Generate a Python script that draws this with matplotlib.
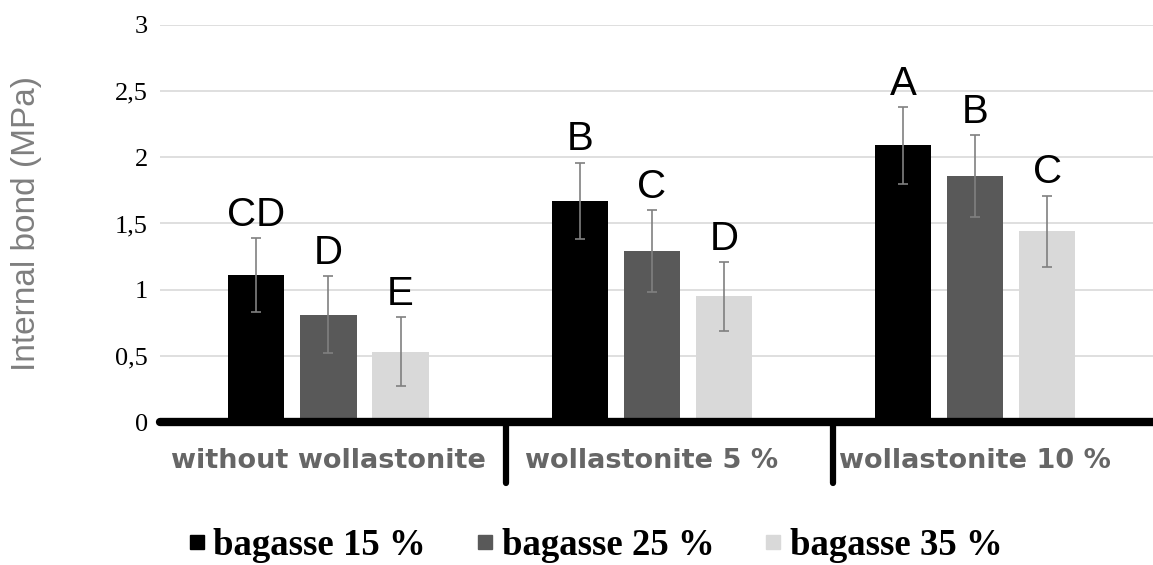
import numpy as np
import matplotlib
matplotlib.use("Agg")
import matplotlib.pyplot as plt
from matplotlib.lines import Line2D

groups = ["without wollastonite", "wollastonite 5 %", "wollastonite 10 %"]
series = ["bagasse 15 %", "bagasse 25 %", "bagasse 35 %"]
colors = ["#000000", "#595959", "#d9d9d9"]

means = [
    [1.11, 1.67, 2.09],   # bagasse 15 %
    [0.81, 1.29, 1.86],   # bagasse 25 %
    [0.53, 0.95, 1.44],   # bagasse 35 %
]
errs = [
    [0.28, 0.29, 0.29],
    [0.29, 0.31, 0.31],
    [0.26, 0.26, 0.27],
]
letters = [
    ["CD", "B", "A"],
    ["D", "C", "B"],
    ["E", "D", "C"],
]
dividers = [0.55, 1.56]

fig = plt.figure(figsize=(11.53, 5.65), dpi=100)
ax = fig.add_axes([0.139, 0.253, 0.861, 0.703])

x = np.arange(len(groups))
slot = 0.223
width = 0.174
for i in range(len(series)):
    pos = x + (i - 1) * slot
    ax.bar(pos, means[i], width=width, color=colors[i], zorder=2, label=series[i])
    ax.errorbar(pos, means[i], yerr=errs[i], fmt="none", ecolor="#808080",
                elinewidth=1.2, capsize=3.8, capthick=1.2, zorder=3)
    for j in range(len(groups)):
        ax.annotate(letters[i][j], (pos[j], means[i][j] + errs[i][j]),
                    xytext=(0, 3), textcoords="offset points",
                    ha="center", va="bottom", fontsize=29,
                    family="Liberation Sans", color="black")

ax.set_ylim(0, 3)
ax.set_xlim(-0.52, 2.55)
ax.set_yticks(np.arange(0, 3.01, 0.5))
ax.set_yticklabels(["0", "0,5", "1", "1,5", "2", "2,5", "3"],
                   family="Liberation Serif", fontsize=19)
ax.yaxis.grid(True, color="#d9d9d9", linewidth=1.2, zorder=0)
ax.set_axisbelow(True)
for s in ["top", "right", "left"]:
    ax.spines[s].set_visible(False)
ax.spines["bottom"].set_linewidth(6)
ax.spines["bottom"].set_capstyle("round")
ax.tick_params(axis="y", length=0, pad=9)
ax.tick_params(axis="x", length=0, pad=19)
ax.set_xticks(x)
ax.set_xticklabels(groups, fontsize=19.5, fontweight="bold", color="#666666",
                   family="DejaVu Sans")

# separators between the categories
for b in dividers:
    ax.plot([b, b], [0, -0.46], color="black", linewidth=4.5,
            solid_capstyle="round", clip_on=False, zorder=4)

ax.set_ylabel("Internal bond (MPa)", fontsize=24, color="#7f7f7f",
              family="Liberation Sans")
ax.yaxis.set_label_coords(-0.119, 0.5)

handles = [Line2D([], [], marker="s", linestyle="none", markersize=10,
                  color=c) for c in colors]
fig.legend(handles, series, loc="center", bbox_to_anchor=(0.513, 0.035),
           ncol=3, frameon=False, handletextpad=0.0, columnspacing=1.15,
           handlelength=0.9,
           prop={"family": "Liberation Serif", "weight": "bold", "size": 26.5})

fig.savefig("out.png", dpi=100)
